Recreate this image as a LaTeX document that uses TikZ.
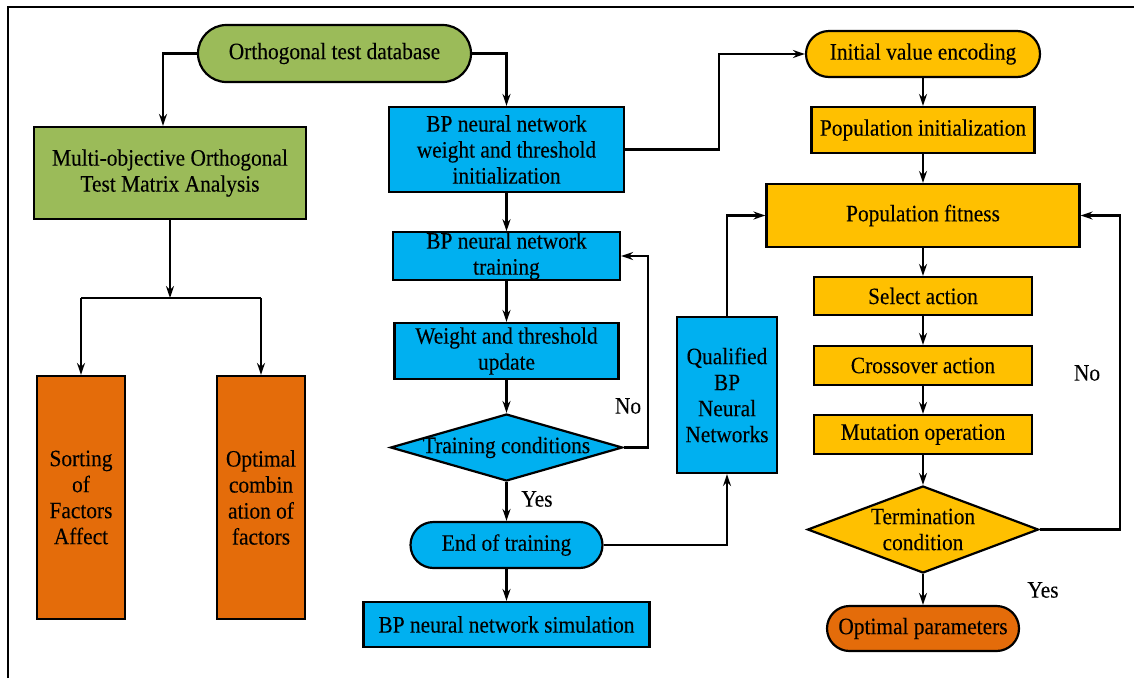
\documentclass[tikz,border=0pt]{standalone}
\usepackage{fontspec}
\setmainfont{Liberation Serif}[FakeStretch=0.91,FakeBold=0.15]
\usetikzlibrary{shapes.misc,shapes.geometric,arrows.meta,calc}
\definecolor{cgreen}{HTML}{9BBB59}
\definecolor{cblue}{HTML}{00B0F0}
\definecolor{cgold}{HTML}{FFC000}
\definecolor{cdark}{HTML}{E46C0A}
\begin{document}
\begin{tikzpicture}[x=1pt,y=-1pt,
  every node/.style={font=\fontsize{23.5}{26}\selectfont},
  box/.style={draw=black,line width=2.2pt,inner sep=0pt,align=center,rectangle},
  term/.style={draw=black,line width=2.2pt,inner sep=0pt,align=center,rounded rectangle},
  dia/.style={draw=black,line width=2.2pt,inner sep=0pt,diamond},
  arr/.style={line width=2.2pt,-{Stealth[length=12pt,width=8pt,inset=4pt]}},
  ln/.style={line width=2.2pt},
  lbl/.style={inner sep=0pt}
]
\useasboundingbox (0,0) rectangle (1134,678);
\draw[line width=2.4pt] (8,678) -- (8,7) -- (1134,7);

% left part
\node[term,fill=cgreen,minimum width=273,minimum height=57] (orth) at (334.5,53.5) {Orthogonal test database};
\node[box,fill=cgreen,minimum width=272,minimum height=92] (multi) at (170,173) {Multi-objective Orthogonal\\Test Matrix Analysis};
\node[box,fill=cdark,minimum width=88,minimum height=243] (sort) at (81,497.5) {Sorting\\of\\Factors\\Affect};
\node[box,fill=cdark,minimum width=88,minimum height=243] (optc) at (261,497.5) {Optimal\\combin\\ation of\\factors};
\coordinate (split) at (170,298);

\draw[arr] (orth.west) -| ([xshift=-7pt]multi.north);
\draw[arr] (multi.south) -- (split);
\draw[ln] (sort.north |- split) -- (optc.north |- split);
\draw[arr] (sort.north |- split) -- (sort.north);
\draw[arr] (optc.north |- split) -- (optc.north);

% blue column
\node[box,fill=cblue,minimum width=235,minimum height=85] (bpinit) at (506.5,149.5) {BP neural network\\weight and threshold\\initialization};
\node[box,fill=cblue,minimum width=227,minimum height=46] (bptrain) at (506.5,256) {BP neural network\\training};
\node[box,fill=cblue,minimum width=224,minimum height=56] (wupd) at (506.5,351) {Weight and threshold\\update};
\node[dia,fill=cblue,minimum width=232,minimum height=67] (dtrain) at (506.5,447.5) {};
\node[lbl] (dtraint) at (dtrain.center) {Training conditions};
\node[term,fill=cblue,minimum width=192,minimum height=46] (endt) at (506.5,545) {End of training};
\node[box,fill=cblue,minimum width=286,minimum height=45] (bpsim) at (506.5,624.5) {BP neural network simulation};
\node[box,fill=cblue,minimum width=100,minimum height=156] (qual) at (727,395) {Qualified\\BP\\Neural\\Networks};

\draw[arr] (orth.east) -| (bpinit.north);
\draw[arr] (bpinit.south) -- (bptrain.north);
\draw[arr] (bptrain.south) -- (wupd.north);
\draw[arr] (wupd.south) -- (dtrain.north);
\draw[arr] (dtrain.south) -- (endt.north);
\draw[arr] (endt.south) -- (bpsim.north);
\coordinate (nob) at (648,447.5);
\draw[arr] (dtrain.east) -- (nob) |- (bptrain.east);
\node[lbl] (no1) at (628,406) {No};
\node[lbl] (yes1) at (537,499) {Yes};
\draw[arr] (endt.east) -| (qual.south);

% gold column
\node[term,fill=cgold,minimum width=234,minimum height=46] (ienc) at (923,54) {Initial value encoding};
\node[box,fill=cgold,minimum width=223,minimum height=46] (pinit) at (923,130) {Population initialization};
\node[box,fill=cgold,minimum width=313,minimum height=63] (pfit) at (923,215.5) {Population fitness};
\node[box,fill=cgold,minimum width=218,minimum height=38] (sel) at (923,296) {Select action};
\node[box,fill=cgold,minimum width=218,minimum height=39] (cross) at (923,365.5) {Crossover action};
\node[box,fill=cgold,minimum width=218,minimum height=39] (mut) at (923,434.5) {Mutation operation};
\node[dia,fill=cgold,minimum width=231,minimum height=87] (dterm) at (923,529.5) {};
\node[lbl,align=center] (dtermt) at (dterm.center) {Termination\\condition};
\node[term,fill=cdark,minimum width=192,minimum height=45] (optp) at (923,628.5) {Optimal parameters};

\coordinate (j1) at (719,149.5);
\draw[arr] (bpinit.east) -- (j1) |- (ienc.west);
\draw[arr] (qual.north) |- (pfit.west);
\draw[arr] (ienc.south) -- (pinit.north);
\draw[arr] (pinit.south) -- (pfit.north);
\draw[arr] (pfit.south) -- (sel.north);
\draw[arr] (sel.south) -- (cross.north);
\draw[arr] (cross.south) -- (mut.north);
\draw[arr] (mut.south) -- (dterm.north);
\draw[arr] (dterm.south) -- (optp.north);
\coordinate (nob2) at (1120,529.5);
\draw[arr] (dterm.east) -- (nob2) |- (pfit.east);
\node[lbl] (no2) at (1087,373) {No};
\node[lbl] (yes2) at (1043,590) {Yes};
\end{tikzpicture}
\end{document}
